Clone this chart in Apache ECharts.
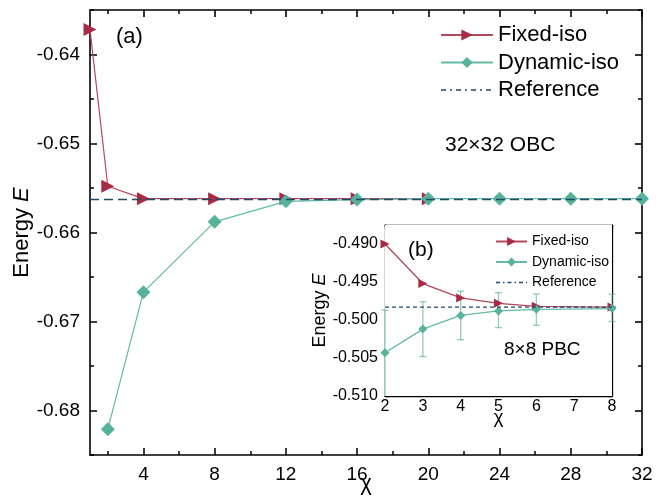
<!DOCTYPE html>
<html><head><meta charset="utf-8">
<script src="https://cdn.jsdelivr.net/npm/echarts@6/dist/echarts.min.js"></script>
<style>html,body{margin:0;padding:0;background:#fff}#c{width:665px;height:501px}</style>
</head><body><div id="c"></div>
<script>
// ---- main panel (a): 32x32 OBC ----
const mainXFixed = [1, 2, 4, 8, 12, 16, 20];
const mainFixed = [-0.6372, -0.6548, -0.6562, -0.6562, -0.6562, -0.6562, -0.6562];
const mainXDyn = [2, 4, 8, 12, 16, 20, 24, 28, 32];
const mainDyn = [-0.6821, -0.6667, -0.6588, -0.6565, -0.6563, -0.6562, -0.6562, -0.6562, -0.6562];
const mainRefX = [1, 32];
const mainRef = -0.6563;
const mainXTicks = [4, 8, 12, 16, 20, 24, 28, 32];
const mainXMinor = [2, 6, 10, 14, 18, 22, 26, 30];
const mainYTicks = [-0.68, -0.67, -0.66, -0.65, -0.64];
const mainYMinor = [-0.685, -0.675, -0.665, -0.655, -0.645, -0.635];
// ---- inset panel (b): 8x8 PBC ----
const insetX = [2, 3, 4, 5, 6, 8];
const insetFixed = [-0.4900, -0.4952, -0.4971, -0.4978, -0.4982, -0.4983];
const insetDyn = [-0.5043, -0.5012, -0.4994, -0.4988, -0.4986, -0.4985];
const insetDynHigh = [-0.4987, -0.4976, -0.4962, -0.4964, -0.4966, -0.4966];
const insetDynLow = [-0.5102, -0.5048, -0.5026, -0.5010, -0.5007, -0.5002];
const insetRefX = [2, 8];
const insetRef = -0.4983;
const insetXTicks = [2, 3, 4, 5, 6, 7, 8];
const insetYTicks = [-0.510, -0.505, -0.500, -0.495, -0.490];
const insetYMinor = [-0.5075, -0.5025, -0.4975, -0.4925];

const FONT = 'Liberation Sans, Arial, sans-serif';
const RED = '#a82a44', RED_LINE = '#b4475d';
const TEAL = '#56b29b', TEAL_LINE = '#62baa4', TEAL_ERR = 'rgba(86,178,155,0.65)';
const NAVY = '#1e4a6c';
const TRI = 'path://M0,0L10,5L0,10Z';

function axLine(w){ return {show:true, onZero:false, lineStyle:{color:'#000', width:w}}; }
function tickAx(grid, pos, min, max, vals, len, w, showLine){
  return {type:'value', gridIndex:grid, position:pos, min:min, max:max,
    axisLine: showLine ? axLine(w) : {show:false},
    axisTick:{show:true, inside:true, length:len, customValues:vals, lineStyle:{color:'#000', width:w}},
    axisLabel:{show:false}, splitLine:{show:false}};
}

const chart = echarts.init(document.getElementById('c'), null, {renderer:'canvas'});
const option = {
  animation:false,
  backgroundColor:'#fff',
  textStyle:{fontFamily:FONT},
  grid:[
    {left:90, right:23, top:10, bottom:46, containLabel:false, outerBoundsMode:'none'},
    {left:385, right:53, top:225, bottom:105, containLabel:false, outerBoundsMode:'none',
      show:true, backgroundColor:'#fff', borderWidth:0, z:1}
  ],
  xAxis:[
    {type:'value', gridIndex:0, position:'bottom', min:1, max:32,
      axisLine:axLine(1.6),
      axisTick:{show:true, inside:true, length:7, customValues:mainXTicks, lineStyle:{color:'#000', width:1.5}},
      axisLabel:{customValues:mainXTicks, fontSize:19, color:'#000', margin:10, fontFamily:FONT},
      splitLine:{show:false},
      name:'χ', nameLocation:'middle', nameGap:18, nameMoveOverlap:false,
      nameTextStyle:{fontSize:22, color:'#000', fontFamily:FONT}},
    tickAx(0, 'bottom', 1, 32, mainXMinor, 4, 1.5, false),
    tickAx(0, 'top', 1, 32, mainXTicks, 7, 1.6, true),
    tickAx(0, 'top', 1, 32, mainXMinor, 4, 1.5, false),
    {type:'value', gridIndex:1, position:'bottom', min:2, max:8,
      axisLine:axLine(1.3),
      axisTick:{show:true, inside:true, length:4, customValues:insetXTicks, lineStyle:{color:'#000', width:1.1}},
      axisLabel:{customValues:insetXTicks, fontSize:16, color:'#000', margin:3, fontFamily:FONT},
      splitLine:{show:false},
      name:'χ', nameLocation:'middle', nameGap:12, nameMoveOverlap:false,
      nameTextStyle:{fontSize:19, color:'#000', fontFamily:FONT}},
    tickAx(1, 'top', 2, 8, insetXTicks, 4, 1.3, true)
  ],
  yAxis:[
    {type:'value', gridIndex:0, position:'left', min:-0.685, max:-0.635,
      axisLine:axLine(1.6),
      axisTick:{show:true, inside:true, length:7, customValues:mainYTicks, lineStyle:{color:'#000', width:1.5}},
      axisLabel:{customValues:mainYTicks, fontSize:19, color:'#000', margin:10, fontFamily:FONT,
        formatter:function(v){return v.toFixed(2);}},
      splitLine:{show:false},
      name:'{a|Energy }{b|E}', nameLocation:'middle', nameGap:57, nameMoveOverlap:false,
      nameTextStyle:{fontSize:22, color:'#000', fontFamily:FONT,
        rich:{a:{fontSize:22, fontFamily:FONT, color:'#000'}, b:{fontSize:22, fontStyle:'italic', fontFamily:FONT, color:'#000'}}}},
    tickAx(0, 'left', -0.685, -0.635, mainYMinor, 4, 1.5, false),
    tickAx(0, 'right', -0.685, -0.635, mainYTicks, 7, 1.6, true),
    tickAx(0, 'right', -0.685, -0.635, mainYMinor, 4, 1.5, false),
    {type:'value', gridIndex:1, position:'left', min:-0.510, max:-0.4875,
      axisLine:axLine(1.3),
      axisTick:{show:true, inside:true, length:4, customValues:insetYTicks, lineStyle:{color:'#000', width:1.1}},
      axisLabel:{customValues:insetYTicks, fontSize:16, color:'#000', margin:7, fontFamily:FONT,
        formatter:function(v){return v.toFixed(3);}},
      splitLine:{show:false},
      name:'{a|Energy }{b|E}', nameLocation:'middle', nameGap:56, nameMoveOverlap:false,
      nameTextStyle:{fontSize:18, color:'#000', fontFamily:FONT,
        rich:{a:{fontSize:18, fontFamily:FONT, color:'#000'}, b:{fontSize:18, fontStyle:'italic', fontFamily:FONT, color:'#000'}}}},
    tickAx(1, 'left', -0.510, -0.4875, insetYMinor, 2.5, 1.1, false),
    tickAx(1, 'right', -0.510, -0.4875, insetYTicks, 4, 1.3, true)
  ],
  legend:[
    {orient:'vertical', left:440, top:24, padding:0, itemWidth:52, itemHeight:14, itemGap:5.5, z:20,
      textStyle:{fontSize:22, lineHeight:22, color:'#000', fontFamily:FONT},
      data:['Fixed-iso','Dynamic-iso',
        {name:'Reference', itemStyle:{color:'rgba(0,0,0,0)', borderWidth:0, opacity:0}, lineStyle:{type:[5,4,2,4], width:1.6, color:NAVY}}]},
    {orient:'vertical', left:495, top:234.5, padding:0, itemWidth:31, itemHeight:11, itemGap:6.5, z:20,
      textStyle:{fontSize:14, lineHeight:14, color:'#000', fontFamily:FONT},
      data:['Fixed-iso','Dynamic-iso',
        {name:'Reference', itemStyle:{color:'rgba(0,0,0,0)', borderWidth:0, opacity:0}, lineStyle:{type:[4,3,1.5,3], width:1.4, color:NAVY}}]}
  ],
  graphic:[
    {type:'text', left:116, top:26, style:{text:'(a)', fontSize:22, fontFamily:FONT, fill:'#000'}, z:10},
    {type:'text', left:445, top:135, style:{text:'32×32 OBC', fontSize:21, fontFamily:FONT, fill:'#000'}, z:10},
    {type:'text', left:408, top:240, style:{text:'(b)', fontSize:21, fontFamily:FONT, fill:'#000'}, z:10},
    {type:'text', left:504, top:340, style:{text:'8×8 PBC', fontSize:19, fontFamily:FONT, fill:'#000'}, z:10}
  ],
  series:[
    {name:'Fixed-iso', type:'line', xAxisIndex:0, yAxisIndex:0, z:3,
      data:mainXFixed.map(function(x,i){return [x, mainFixed[i]];}),
      symbol:TRI, symbolSize:13, showAllSymbol:true,
      itemStyle:{color:RED}, lineStyle:{color:RED_LINE, width:1.2}},
    {name:'Dynamic-iso', type:'line', xAxisIndex:0, yAxisIndex:0, z:4,
      data:mainXDyn.map(function(x,i){return [x, mainDyn[i]];}),
      symbol:'diamond', symbolSize:14, showAllSymbol:true,
      itemStyle:{color:TEAL}, lineStyle:{color:TEAL_LINE, width:1.2}},
    {name:'Reference', type:'line', xAxisIndex:0, yAxisIndex:0, z:5,
      data:mainRefX.map(function(x){return [x, mainRef];}),
      symbol:'none', itemStyle:{color:NAVY}, lineStyle:{color:NAVY, width:1.6, type:[9,5]}},
    {name:'Dynamic-iso', type:'custom', xAxisIndex:4, yAxisIndex:4, z:6,
      data:insetX.map(function(x,i){return [x, insetDynLow[i], insetDynHigh[i]];}),
      encode:{x:0, y:[1,2]},
      renderItem:function(params, api){
        const x = api.value(0), lo = api.value(1), hi = api.value(2);
        const pHi = api.coord([x, hi]);
        const pLo = api.coord([x, lo]);
        const cs = params.coordSys;
        const bottom = cs.y + cs.height;
        let yLo = pLo[1], capLo = true;
        if (yLo > bottom) { yLo = bottom; capLo = false; }
        const w = 3.5;
        const st = {stroke:TEAL_ERR, lineWidth:1.3};
        const ch = [
          {type:'line', shape:{x1:pHi[0], y1:pHi[1], x2:pHi[0], y2:yLo}, style:st},
          {type:'line', shape:{x1:pHi[0]-w, y1:pHi[1], x2:pHi[0]+w, y2:pHi[1]}, style:st}
        ];
        if (capLo) ch.push({type:'line', shape:{x1:pLo[0]-w, y1:pLo[1], x2:pLo[0]+w, y2:pLo[1]}, style:st});
        return {type:'group', children:ch};
      }},
    {name:'Fixed-iso', type:'line', xAxisIndex:4, yAxisIndex:4, z:7,
      data:insetX.map(function(x,i){return [x, insetFixed[i]];}),
      symbol:TRI, symbolSize:9, showAllSymbol:true,
      itemStyle:{color:RED}, lineStyle:{color:RED_LINE, width:1.3}},
    {name:'Dynamic-iso', type:'line', xAxisIndex:4, yAxisIndex:4, z:8,
      data:insetX.map(function(x,i){return [x, insetDyn[i]];}),
      symbol:'diamond', symbolSize:9, showAllSymbol:true,
      itemStyle:{color:TEAL}, lineStyle:{color:TEAL_LINE, width:1.3}},
    {name:'Reference', type:'line', xAxisIndex:4, yAxisIndex:4, z:9,
      data:insetRefX.map(function(x){return [x, insetRef];}),
      symbol:'none', itemStyle:{color:NAVY}, lineStyle:{color:NAVY, width:1.4, type:[4,3]}}
  ]
};
chart.setOption(option);
</script>
</body></html>
